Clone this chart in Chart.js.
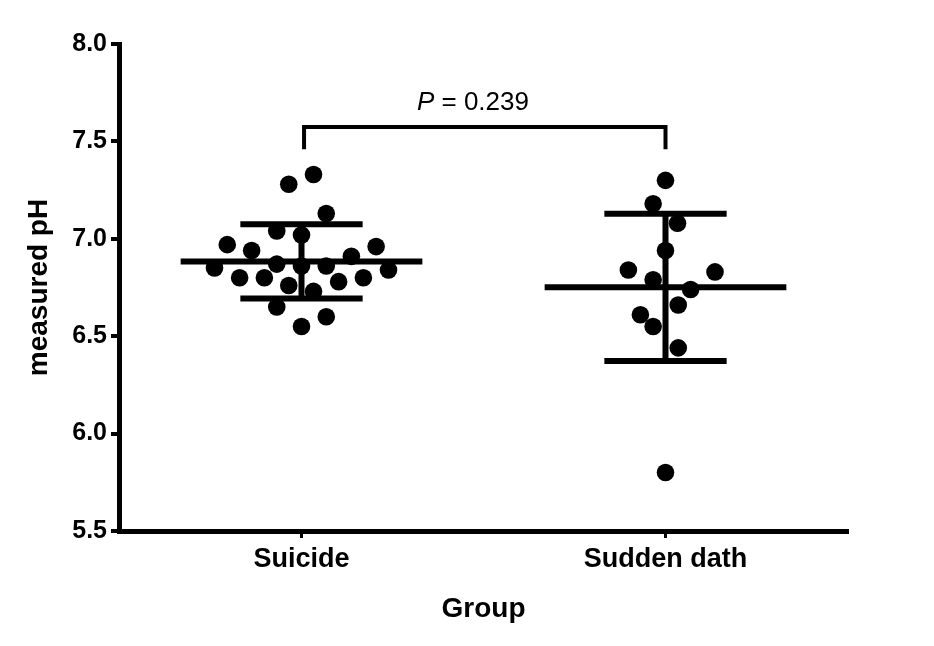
<!DOCTYPE html>
<html>
<head>
<meta charset="utf-8">
<script src="https://cdn.jsdelivr.net/npm/chart.js@4.4.1/dist/chart.umd.min.js"></script>
<style>
  html, body { margin: 0; padding: 0; background: #ffffff; }
  #wrap { width: 934px; height: 646px; }
</style>
</head>
<body>
<div id="wrap"><canvas id="c" width="934" height="646"></canvas></div>
<script>
// ---- data ----
const groups = ['Suicide', 'Sudden dath'];
const suicidePH = [7.28, 7.33, 7.13, 7.04, 7.02, 6.97, 6.96, 6.94, 6.91, 6.85, 6.87, 6.86,
                   6.86, 6.84, 6.80, 6.80, 6.78, 6.80, 6.76, 6.73, 6.65, 6.60, 6.55];
const suicideJitter = [-0.035, 0.033, 0.068, -0.068, 0, -0.204, 0.205, -0.137, 0.137, -0.239, -0.068, 0,
                       0.068, 0.239, -0.170, -0.102, 0.102, 0.170, -0.035, 0.033, -0.068, 0.068, 0];
const suddenPH = [7.30, 7.18, 7.08, 6.94, 6.84, 6.83, 6.79, 6.74, 6.66, 6.61, 6.55, 6.44, 5.80];
const suddenJitter = [0, -0.034, 0.033, 0, -0.102, 0.136, -0.034, 0.069, 0.035, -0.069, -0.034, 0.035, 0];
const yTickValues = [5.5, 6.0, 6.5, 7.0, 7.5, 8.0];
const pValueText = '0.239';
const yTitle = 'measured pH';
const xTitle = 'Group';

// ---- build datasets ----
const seriesPH = [suicidePH, suddenPH];
const seriesJitter = [suicideJitter, suddenJitter];
const datasets = [];
function mean(a) { return a.reduce((s, v) => s + v, 0) / a.length; }
function sd(a) { const m = mean(a); return Math.sqrt(a.reduce((s, v) => s + (v - m) * (v - m), 0) / (a.length - 1)); }

seriesPH.forEach((vals, gi) => {
  const gx = gi + 1;
  datasets.push({
    type: 'scatter',
    data: vals.map((v, i) => ({ x: gx + seriesJitter[gi][i], y: v })),
    pointRadius: 8.8,
    pointHoverRadius: 8.8,
    backgroundColor: '#000000',
    borderWidth: 0,
    order: 2
  });
  const m = mean(vals), s = sd(vals);
  const segs = [
    [[gx - 0.332, m], [gx + 0.332, m]],
    [[gx - 0.168, m + s], [gx + 0.168, m + s]],
    [[gx - 0.168, m - s], [gx + 0.168, m - s]],
    [[gx, m - s], [gx, m + s]]
  ];
  segs.forEach(seg => {
    datasets.push({
      type: 'line',
      data: seg.map(p => ({ x: p[0], y: p[1] })),
      borderColor: '#000000',
      borderWidth: 6,
      borderCapStyle: 'butt',
      pointRadius: 0,
      fill: false,
      order: 1
    });
  });
});

// ---- bracket + P value ----
const bracketPlugin = {
  id: 'bracket',
  afterDatasetsDraw(chart) {
    const { ctx, scales: { x, y } } = chart;
    const x1 = x.getPixelForValue(1.007), x2 = x.getPixelForValue(2);
    const yTop = y.getPixelForValue(7.574), yBot = y.getPixelForValue(7.46);
    ctx.save();
    ctx.strokeStyle = '#000';
    ctx.lineWidth = 4;
    ctx.lineCap = 'butt';
    ctx.lineJoin = 'miter';
    ctx.beginPath();
    ctx.moveTo(x1, yBot);
    ctx.lineTo(x1, yTop);
    ctx.lineTo(x2, yTop);
    ctx.lineTo(x2, yBot);
    ctx.stroke();
    // text
    const cx = x.getPixelForValue(1.471);
    const ty = y.getPixelForValue(7.697);
    const fItal = 'italic 26px "Liberation Sans", Arial, sans-serif';
    const fReg = '26px "Liberation Sans", Arial, sans-serif';
    ctx.font = fItal; const wP = ctx.measureText('P').width;
    ctx.font = fReg; const rest = ' = ' + pValueText; const wR = ctx.measureText(rest).width;
    let sx = cx - (wP + wR) / 2;
    ctx.fillStyle = '#000';
    ctx.textBaseline = 'middle';
    ctx.textAlign = 'left';
    ctx.font = fItal; ctx.fillText('P', sx, ty);
    ctx.font = fReg; ctx.fillText(rest, sx + wP, ty);
    ctx.restore();
  }
};

new Chart(document.getElementById('c'), {
  type: 'scatter',
  data: { datasets },
  options: {
    responsive: false,
    animation: false,
    devicePixelRatio: 1,
    layout: { padding: { top: 44, right: 86.5, left: 0, bottom: 0 } },
    plugins: { legend: { display: false }, tooltip: { enabled: false } },
    scales: {
      x: {
        type: 'linear',
        min: 0.5, max: 2.5,
        afterBuildTicks(scale) { scale.ticks = groups.map((g, i) => ({ value: i + 1 })); },
        afterFit(scale) { scale.height = 115; },
        ticks: {
          callback: (v) => groups[Math.round(v) - 1] || '',
          color: '#000',
          font: { family: '"Liberation Sans", Arial, sans-serif', size: 27, weight: 'bold' },
          padding: 5,
          maxRotation: 0, autoSkip: false
        },
        grid: { display: true, drawOnChartArea: false, drawTicks: true, tickLength: 7, color: '#000', lineWidth: 3 },
        border: { display: true, color: '#000', width: 5 },
        title: {
          display: true, text: xTitle, color: '#000',
          font: { family: '"Liberation Sans", Arial, sans-serif', size: 28, weight: 'bold' },
          padding: { top: 0, bottom: 20 }
        }
      },
      y: {
        type: 'linear',
        min: 5.5, max: 8.0,
        afterBuildTicks(scale) { scale.ticks = yTickValues.map(v => ({ value: v })); },
        afterFit(scale) { scale.width = 119.5; },
        ticks: {
          callback: (v) => Number(v).toFixed(1),
          color: '#000',
          font: { family: '"Liberation Sans", Arial, sans-serif', size: 25, weight: 'bold' },
          padding: 4
        },
        grid: { display: true, drawOnChartArea: false, drawTicks: true, tickLength: 8.5, color: '#000', lineWidth: 4 },
        border: { display: true, color: '#000', width: 5 },
        title: {
          display: true, text: yTitle, color: '#000',
          font: { family: '"Liberation Sans", Arial, sans-serif', size: 28, weight: 'bold' },
          padding: { top: 22, bottom: 0 }
        }
      }
    }
  },
  plugins: [bracketPlugin]
});
</script>
</body>
</html>
